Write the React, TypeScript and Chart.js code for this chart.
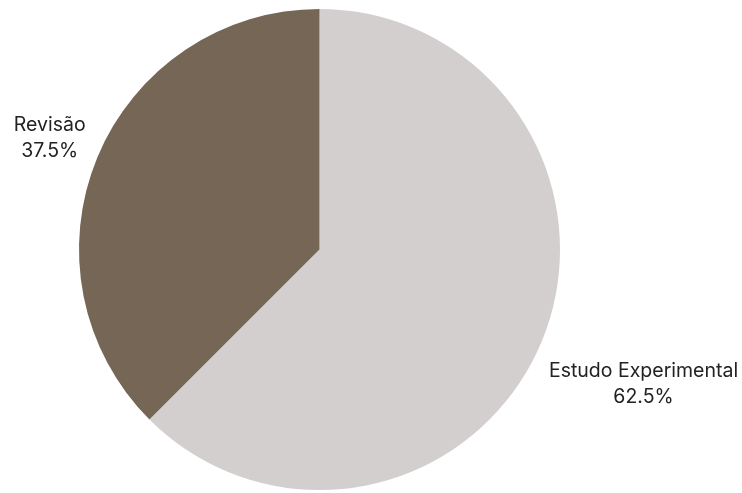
import React, { useEffect, useRef } from "react";
import { Chart, registerables } from "chart.js";

Chart.register(...registerables);

const categories = ["Estudo Experimental", "Revisão"];
const values = [62.5, 37.5];
const valueLabels = ["62.5%", "37.5%"];
const colors = ["#d4cfcf", "#766656"];

const labelPlugin = {
  id: "outsideLabels",
  afterDraw(chart: any) {
    const ctx = chart.ctx;
    const meta = chart.getDatasetMeta(0);
    ctx.save();
    ctx.font = "19.5px Inter";
    ctx.fillStyle = "#222222";
    ctx.textAlign = "center";
    ctx.textBaseline = "middle";
    meta.data.forEach((arc: any, i: number) => {
      const { x, y, startAngle, endAngle, outerRadius } = arc.getProps(
        ["x", "y", "startAngle", "endAngle", "outerRadius"],
        true
      );
      const mid = (startAngle + endAngle) / 2;
      const lines = [categories[i], valueLabels[i]];
      const w = Math.max(...lines.map((l) => ctx.measureText(l).width));
      const d = outerRadius * 1.065 + w / 2;
      const cx = x + Math.cos(mid) * d;
      const cy = y + Math.sin(mid) * d;
      const lh = 26;
      lines.forEach((l, j) => {
        ctx.fillText(l, cx, cy + (j - (lines.length - 1) / 2) * lh);
      });
    });
    ctx.restore();
  },
};

export default function App() {
  const ref = useRef<HTMLCanvasElement | null>(null);
  useEffect(() => {
    if (!ref.current) return;
    const chart = new Chart(ref.current, {
      type: "pie",
      data: {
        labels: categories,
        datasets: [
          {
            data: values,
            backgroundColor: colors,
            borderWidth: 0,
          },
        ],
      },
      options: {
        responsive: false,
        animation: false,
        layout: { padding: { left: 79, right: 182, top: 9, bottom: 3 } },
        plugins: {
          legend: { display: false },
          tooltip: { enabled: false },
        },
      },
      plugins: [labelPlugin],
    });
    return () => chart.destroy();
  }, []);
  return (
    <div style={{ position: "absolute", left: 0, top: 0, width: 742, height: 493, background: "#fff" }}>
      <canvas ref={ref} width={742} height={493} style={{ display: "block" }} />
    </div>
  );
}
